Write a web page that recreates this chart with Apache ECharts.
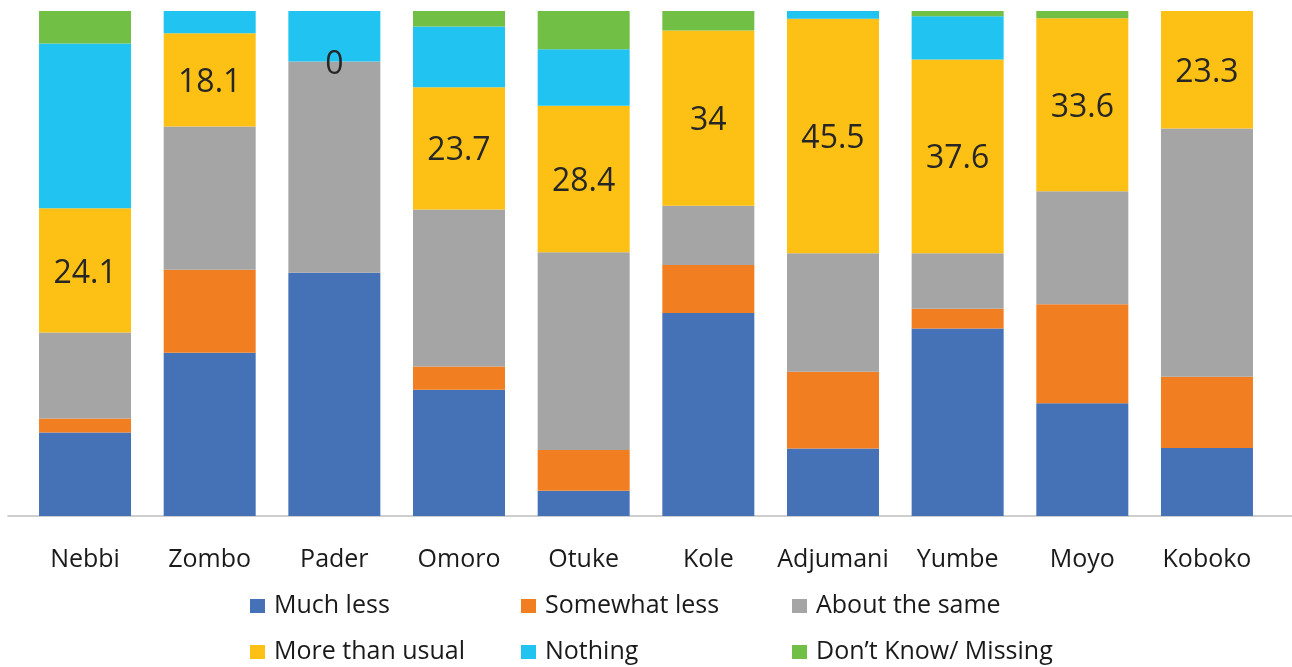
<!DOCTYPE html>
<html>
<head>
<meta charset="utf-8">
<script src="https://cdn.jsdelivr.net/npm/echarts@6/dist/echarts.min.js"></script>
<style>
  html, body { margin: 0; padding: 0; background: #fff; }
  #chart { width: 1292px; height: 667px; }
</style>
</head>
<body>
<div id="chart"></div>
<script>
// districts
var districts = ['Nebbi', 'Zombo', 'Pader', 'Omoro', 'Otuke', 'Kole', 'Adjumani', 'Yumbe', 'Moyo', 'Koboko'];

// shares (%), bottom segment first
var muchLess      = [16.2, 31.7, 47.2, 24.5,  4.9, 39.4, 13.1, 36.4, 21.9, 13.2];
var somewhatLess  = [ 2.7, 16.1,  0.0,  4.5,  7.9,  9.3, 14.9,  3.8, 19.2, 13.8];
var aboutSame     = [16.7, 27.8, 41.0, 30.5, 38.4, 11.5, 23.0, 10.8, 21.9, 48.2];
var moreThanUsual = [24.1, 18.1,  0.0, 23.7, 28.4, 34.0, 45.5, 37.6, 33.6, 23.3];
var nothing       = [32.0,  4.3,  9.8, 11.8, 11.0,  0.0,  1.5,  8.4,  0.0,  0.0];
var dontKnow      = [ 6.3,  0.0,  0.0,  3.0,  7.4,  3.8,  0.0,  1.3,  1.4,  0.0];

var seriesNames = ['Much less', 'Somewhat less', 'About the same', 'More than usual', 'Nothing', 'Don\u2019t Know/ Missing'];
var seriesData = [muchLess, somewhatLess, aboutSame, moreThanUsual, nothing, dontKnow];
var colors = ['#4571B6', '#F27E22', '#A5A5A5', '#FCC114', '#21C3F1', '#71BF45'];

var chart = echarts.init(document.getElementById('chart'));

var series = seriesNames.map(function (name, i) {
  var s = {
    name: name,
    type: 'bar',
    stack: 'total',
    barWidth: 92,
    xAxisIndex: 0,
    yAxisIndex: 0,
    itemStyle: { color: colors[i] },
    data: seriesData[i]
  };
  // only "More than usual" carries value labels
  if (i === 3) {
    s.label = {
      show: true,
      position: 'inside',
      offset: [0, 3],
      color: '#262626',
      fontFamily: 'Open Sans',
      fontSize: 32
    };
  }
  return s;
});

var option = {
  animation: false,
  color: colors,
  grid: [
    { left: 22.7, right: 22.7, top: 11, bottom: 151 },
    // wider grid only used to draw the long baseline
    { left: 8, right: 0, top: 11, bottom: 151 }
  ],
  xAxis: [
    {
      type: 'category',
      gridIndex: 0,
      data: districts,
      axisLine: { show: false },
      axisTick: { show: false },
      axisLabel: {
        color: '#1a1a1a',
        fontFamily: 'Open Sans',
        fontSize: 25,
        lineHeight: 25,
        margin: 31,
        interval: 0
      }
    },
    {
      type: 'category',
      gridIndex: 1,
      data: [''],
      axisLine: { show: true, lineStyle: { color: '#bfbfbf', width: 1.5 } },
      axisTick: { show: false },
      axisLabel: { show: false }
    }
  ],
  yAxis: [
    {
      type: 'value',
      gridIndex: 0,
      min: 0,
      max: 98,
      show: false,
      splitLine: { show: false }
    },
    {
      type: 'value',
      gridIndex: 1,
      min: 0,
      max: 98,
      show: false,
      splitLine: { show: false }
    }
  ],
  legend: {
    data: seriesNames,
    left: 245,
    top: 583,
    width: 830,
    orient: 'horizontal',
    icon: 'rect',
    itemWidth: 15,
    itemHeight: 14,
    itemGap: 10,
    textStyle: {
      color: '#1a1a1a',
      fontFamily: 'Open Sans',
      fontSize: 25,
      lineHeight: 36,
      width: 237,
      padding: [0, 0, 0, 4]
    }
  },
  series: series
};

chart.setOption(option);
</script>
</body>
</html>
